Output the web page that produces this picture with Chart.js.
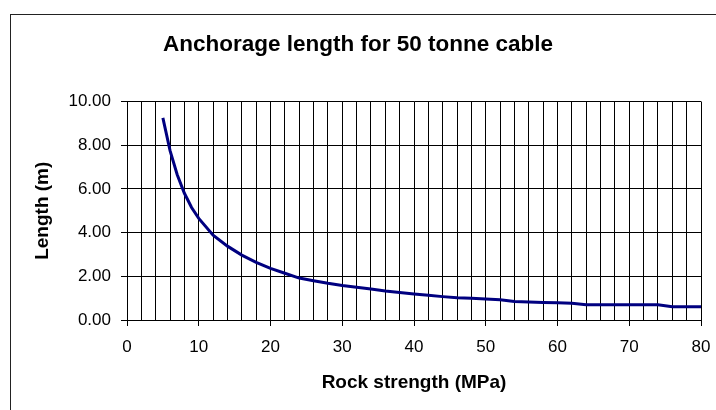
<!DOCTYPE html>
<html lang="en">
<head>
    <meta charset="UTF-8">
    <script src="https://cdn.jsdelivr.net/npm/chart.js"></script>
    <title>Anchorage length</title>
    <style>
        html, body { margin: 0; padding: 0; background: #fff; }
        .grafico { width: 716px; height: 410px; }
    </style>
</head>
<body>
    <div class="grafico">
        <canvas id="myChart" width="716" height="410"></canvas>
    </div>

<script>
    // rock strength (MPa) and anchorage length (m)
    const strength = [5, 6, 7, 8, 9, 10, 12, 14, 16, 18, 20, 22, 24, 26, 28, 30, 32, 34, 36, 38, 40,
        42, 44, 46, 48, 50, 52, 54, 56, 58, 60, 62, 64, 66, 68, 70, 72, 74, 76, 78, 80];
    const length = [9.25, 7.75, 6.65, 5.80, 5.15, 4.65, 3.88, 3.38, 2.97, 2.64, 2.36, 2.14, 1.92, 1.80, 1.68,
        1.58, 1.50, 1.42, 1.33, 1.26, 1.19, 1.13, 1.07, 1.02, 0.99, 0.96, 0.93, 0.85, 0.82, 0.80, 0.79,
        0.77, 0.70, 0.70, 0.70, 0.70, 0.70, 0.70, 0.61, 0.61, 0.61];
    const yTicks = [0, 2, 4, 6, 8, 10];
    const xLabels = [0, 10, 20, 30, 40, 50, 60, 70, 80];

    const moldura = {
        id: 'moldura',
        beforeDraw(chart) {
            const c = chart.ctx;
            c.save();
            c.fillStyle = '#fff';
            c.fillRect(0, 0, chart.width, chart.height);
            c.strokeStyle = '#222';
            c.lineWidth = 1;
            c.strokeRect(10.5, 14.5, 900, 600);
            c.restore();
        }
    };

    new Chart(document.getElementById('myChart'), {
        type: 'line',
        data: {
            datasets: [{
                label: 'Length',
                data: strength.map((s, i) => ({ x: s, y: length[i] })),
                borderColor: '#000080',
                borderWidth: 3,
                pointRadius: 0,
                tension: 0,
                fill: false
            }]
        },
        options: {
            responsive: false,
            animation: false,
            devicePixelRatio: 1,
            layout: { padding: { left: 15, right: 15, top: 0, bottom: 0 } },
            plugins: {
                legend: { display: false },
                tooltip: { enabled: false },
                title: {
                    display: true,
                    text: 'Anchorage length for 50 tonne cable',
                    color: '#000',
                    font: { family: 'Arial, "Liberation Sans"', size: 22.5, weight: 'bold', lineHeight: 1.2 },
                    padding: { top: 31, bottom: 43.5 }
                }
            },
            scales: {
                x: {
                    type: 'linear',
                    min: 0,
                    max: 80,
                    afterFit(scale) {
                        scale.height = 90;
                        scale.paddingLeft = 0;
                        scale.paddingRight = 0;
                    },
                    afterBuildTicks(scale) {
                        const t = [];
                        for (let v = 0; v <= 80; v += 2) t.push({ value: v });
                        scale.ticks = t;
                    },
                    ticks: {
                        autoSkip: false,
                        maxRotation: 0,
                        padding: 11,
                        color: '#000',
                        font: { family: 'Arial, "Liberation Sans"', size: 17 },
                        callback: v => xLabels.includes(v) ? String(v) : ''
                    },
                    grid: {
                        color: '#000',
                        lineWidth: 1,
                        tickLength: 6,
                        tickColor: c => (c.tick && xLabels.includes(c.tick.value)) ? '#000' : 'rgba(0,0,0,0)'
                    },
                    border: { color: '#000', width: 1 },
                    title: {
                        display: true,
                        text: 'Rock strength (MPa)',
                        color: '#000',
                        font: { family: 'Arial, "Liberation Sans"', size: 19, weight: 'bold', lineHeight: 1.2 },
                        padding: { top: 0, bottom: 16 }
                    }
                },
                y: {
                    min: 0,
                    max: 10,
                    afterFit(scale) { scale.width = 112; },
                    afterBuildTicks(scale) {
                        scale.ticks = yTicks.map(v => ({ value: v }));
                    },
                    ticks: {
                        padding: 10,
                        color: '#000',
                        font: { family: 'Arial, "Liberation Sans"', size: 17 },
                        callback: v => v.toFixed(2)
                    },
                    grid: { color: '#000', lineWidth: 1, tickLength: 6 },
                    border: { color: '#000', width: 1 },
                    title: {
                        display: true,
                        text: 'Length (m)',
                        color: '#000',
                        font: { family: 'Arial, "Liberation Sans"', size: 19, weight: 'bold', lineHeight: 1.2 },
                        padding: { top: 16, bottom: 0 }
                    }
                }
            }
        },
        plugins: [moldura]
    });
</script>
</body>
</html>
